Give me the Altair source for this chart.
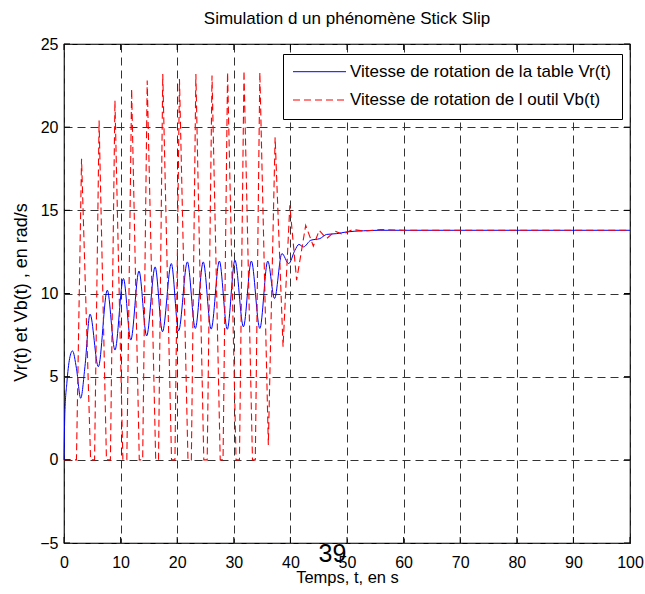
import altair as alt
import pandas as pd

# ---- data ----
VR_T = [0, 0.15, 0.5, 1.0, 1.5, 2.2, 2.95, 3.7, 4.6, 6.07, 7.65, 9.0, 10.5, 11.8,
        13.25, 14.6, 16.1, 17.4, 18.96, 20.25, 21.8, 23.2, 24.6, 26.0, 27.45, 28.85,
        30.2, 31.7, 33.1, 34.6, 36.0, 37.2, 38.5, 39.7, 40.8, 41.5, 42.3, 43.6, 45.2,
        46.4, 48.2, 49.9, 52.9, 56, 60, 100]
VR_V = [0, 2.8, 4.6, 6.1, 6.55, 5.5, 3.7, 5.6, 8.76, 5.6, 10.2, 6.6, 10.9, 7.2,
        11.35, 7.45, 11.6, 7.7, 11.8, 7.76, 11.9, 7.9, 11.9, 7.86, 11.95, 7.85,
        12.0, 8.0, 11.95, 7.9, 11.95, 9.7, 12.4, 11.8, 12.6, 12.95, 12.8, 13.2, 13.3,
        13.55, 13.6, 13.7, 13.77, 13.8, 13.8, 13.8]

VB_T = [0, 2.2, 3.1, 4.7, 5.4, 6.2, 7.5, 8.2, 9.0, 10.4, 11.1, 11.95, 13.3, 13.9,
        14.7, 16.2, 16.7, 17.45, 19.0, 19.6, 20.4, 21.9, 22.5, 23.3, 24.7, 25.3,
        26.15, 27.6, 28.1, 28.9, 30.4, 31.0, 31.8, 33.3, 33.8, 34.6, 36.1, 37.3,
        38.7, 39.9, 41.1, 42.7, 44.05, 45.1, 46.4, 47.9, 49.2, 51, 53, 56, 60, 100]
VB_V = [0, 0, 18.1, 0, 0, 20.4, 0, 0, 21.6, 0, 0, 22.3, 0, 0,
        22.8, 0, 0, 23.2, 0, 0, 22.9, 0, 0, 23.2, 0, 0,
        23.1, 0, 0, 23.3, 0, 0, 23.4, 0, 0, 23.3, 0.9, 19.4,
        6.8, 15.3, 10.8, 14.1, 12.85, 13.8, 13.3, 13.75, 13.55, 13.85, 13.75, 13.85, 13.8, 13.8]

XTICKS = [0, 10, 20, 30, 40, 50, 60, 70, 80, 90, 100]
YTICKS = [-5, 0, 5, 10, 15, 20, 25]
LEGEND_LABELS = ["Vitesse de rotation de la table Vr(t)",
                 "Vitesse de rotation de l outil Vb(t)"]
TITLE = "Simulation d un phénomène Stick Slip"
XLABEL = "Temps, t, en s"
YLABEL = "Vr(t) et Vb(t) , en rad/s"
PAGE = "39"

FONT = "Liberation Sans"
W, H = 566, 499

xs = alt.Scale(domain=[0, 100], nice=False, zero=False)
ys = alt.Scale(domain=[-5, 25], nice=False, zero=False)

vr = pd.DataFrame({"t": VR_T, "v": VR_V})
vb = pd.DataFrame({"t": VB_T, "v": VB_V})

xaxis = alt.Axis(values=XTICKS, grid=True, gridDash=[8, 5], gridColor="#333333",
                 gridOpacity=1, domain=False, tickSize=0, labelFontSize=16,
                 labelPadding=11, labelFont=FONT, labelColor="black",
                 title=XLABEL, titleFont=FONT, titleFontSize=16.5,
                 titleFontWeight="normal", titleColor="black",
                 titleY=39, titleBaseline="alphabetic", labelFlush=False,
                 labelOverlap=False)
yaxis = alt.Axis(values=YTICKS, grid=True, gridDash=[8, 5], gridColor="#333333",
                 gridOpacity=1, domain=False, tickSize=0, labelFontSize=16,
                 labelPadding=6, labelFont=FONT, labelColor="black",
                 title=YLABEL, titleFont=FONT, titleFontSize=18,
                 titleFontWeight="normal", titleColor="black",
                 titleX=-52, titleY=248, titleBaseline="top", titleAngle=270,
                 labelFlush=False, labelOverlap=False)

X = alt.X("t:Q", scale=xs, axis=xaxis)
Y = alt.Y("v:Q", scale=ys, axis=yaxis)

blue = alt.Chart(vr).mark_line(color="#0000ff", strokeWidth=1, interpolate="monotone").encode(
    x=X, y=Y)
red = alt.Chart(vb).mark_line(color="#ff0000", strokeWidth=1.1, strokeDash=[7, 4]).encode(
    x=X, y=Y)

xt = pd.DataFrame({"t": XTICKS})
yt = pd.DataFrame({"v": YTICKS})
tick_b = alt.Chart(xt).mark_rule(color="black", strokeWidth=1).encode(
    x=X, y=alt.value(H), y2=alt.value(H - 6))
tick_t = alt.Chart(xt).mark_rule(color="black", strokeWidth=1).encode(
    x=X, y=alt.value(0), y2=alt.value(6))
tick_l = alt.Chart(yt).mark_rule(color="black", strokeWidth=1).encode(
    y=Y, x=alt.value(0), x2=alt.value(6))
tick_r = alt.Chart(yt).mark_rule(color="black", strokeWidth=1).encode(
    y=Y, x=alt.value(W), x2=alt.value(W - 6))

one = pd.DataFrame({"a": [0]})
leg_box = alt.Chart(one).mark_rect(fill="white", stroke="black", strokeWidth=1).encode(
    x=alt.value(219.5), x2=alt.value(558.5), y=alt.value(10.5), y2=alt.value(75.5))
leg_blue = alt.Chart(one).mark_rule(color="#0000ff", strokeWidth=1).encode(
    x=alt.value(229), x2=alt.value(282), y=alt.value(27.7))
leg_red = alt.Chart(one).mark_rule(color="#ff0000", strokeWidth=1.1, strokeDash=[7, 4]).encode(
    x=alt.value(229), x2=alt.value(282), y=alt.value(56))
leg_t1 = alt.Chart(pd.DataFrame({"label": [LEGEND_LABELS[0]]})).mark_text(
    align="left", baseline="middle", font=FONT, fontSize=17, color="black").encode(
    text="label:N", x=alt.value(286), y=alt.value(27.7))
leg_t2 = alt.Chart(pd.DataFrame({"label": [LEGEND_LABELS[1]]})).mark_text(
    align="left", baseline="middle", font=FONT, fontSize=17, color="black").encode(
    text="label:N", x=alt.value(286), y=alt.value(56))
page = alt.Chart(pd.DataFrame({"label": [PAGE]})).mark_text(
    align="center", baseline="alphabetic", font=FONT, fontSize=25, color="black").encode(
    text="label:N", x=alt.value(268.5), y=alt.value(518))

chart = alt.layer(
    blue, red, tick_b, tick_t, tick_l, tick_r,
    leg_box, leg_blue, leg_red, leg_t1, leg_t2, page
).properties(
    width=W, height=H,
    title=alt.TitleParams(TITLE, font=FONT, fontSize=17, fontWeight="normal",
                          color="black", anchor="middle", frame="group",
                          baseline="alphabetic", offset=15.5, dy=20.5),
    padding={"left": 64, "top": 44, "right": 15, "bottom": 51},
    autosize=alt.AutoSizeParams(type="none"),
    background="white",
).configure_view(stroke="black", strokeWidth=1.2)

chart.save("out.html", embed_options={"renderer": "svg", "actions": False})
